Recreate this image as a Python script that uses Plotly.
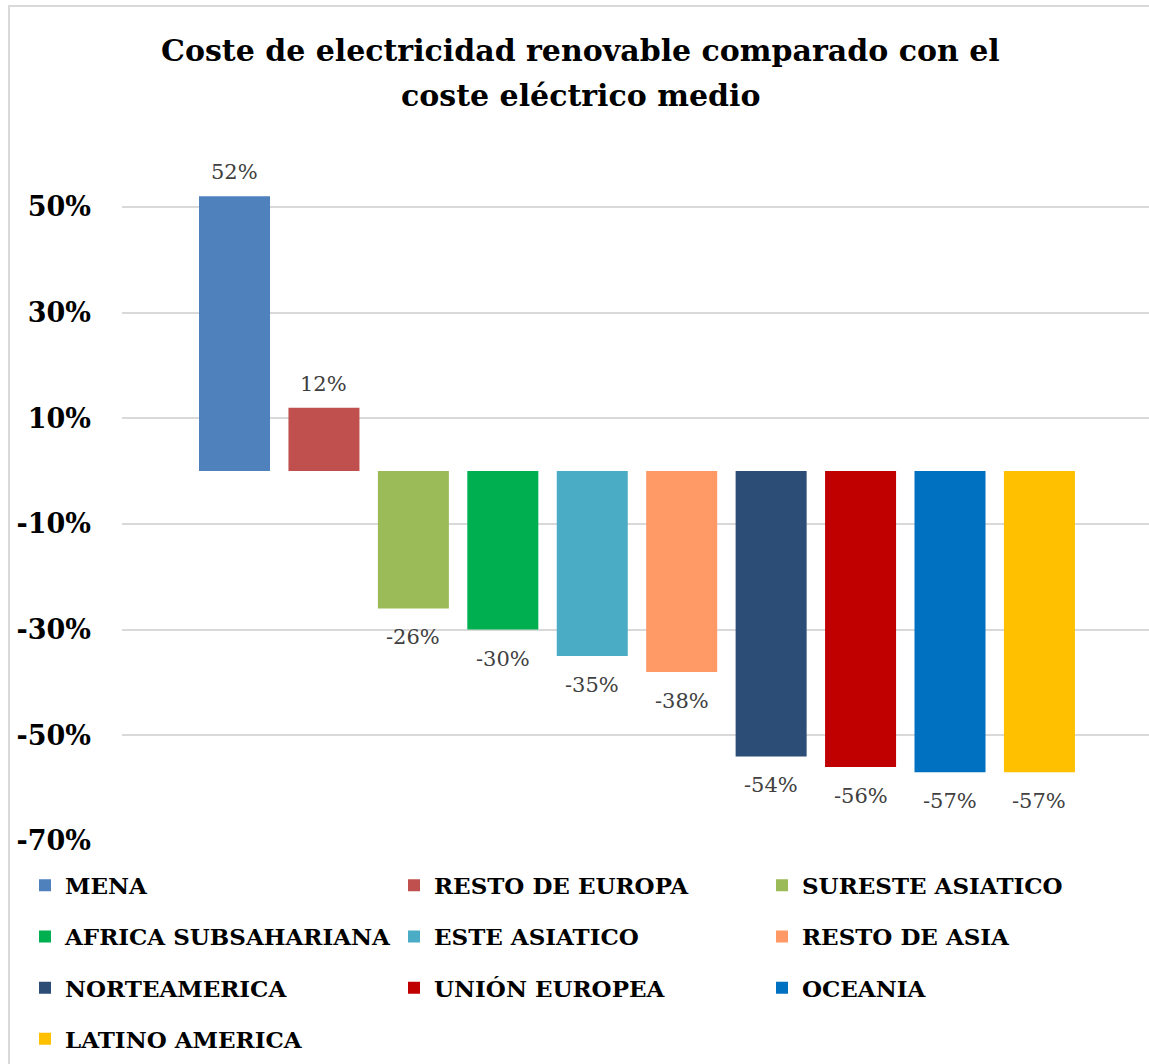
import plotly.graph_objects as go

regions = ["MENA", "RESTO DE EUROPA", "SURESTE ASIATICO", "AFRICA SUBSAHARIANA",
           "ESTE ASIATICO", "RESTO DE ASIA", "NORTEAMERICA", "UNIÓN EUROPEA",
           "OCEANIA", "LATINO AMERICA"]
values = [0.52, 0.12, -0.26, -0.30, -0.35, -0.38, -0.54, -0.56, -0.57, -0.57]
colors = ["#4F81BD", "#C0504D", "#9BBB59", "#00B050", "#4BACC6",
          "#FF9966", "#2C4D75", "#C00000", "#0070C0", "#FFC000"]
y_ticks = [-0.7, -0.5, -0.3, -0.1, 0.1, 0.3, 0.5]
y_tick_text = ["-70%", "-50%", "-30%", "-10%", "10%", "30%", "50%"]
title_lines = ["Coste de electricidad renovable comparado con el",
               "coste eléctrico medio"]

SERIF = "DejaVu Serif"
legend_of = ["legend", "legend2", "legend3"]

fig = go.Figure()
for i, (name, v, c) in enumerate(zip(regions, values, colors)):
    fig.add_trace(go.Bar(
        x=[i], y=[v], name=name, marker=dict(color=c, line=dict(width=0)),
        width=0.794, legend=legend_of[i % 3], legendgroup=name,
        hoverinfo="skip",
    ))
    fig.add_annotation(
        x=i, y=v, text=f"{round(v * 100):d}%", showarrow=False,
        yanchor="middle", yshift=24 if v >= 0 else -29,
        font=dict(family=SERIF, size=21, color="#404040"),
    )

W, H = 1149, 1064
ml, mr, mt, mb = 122, 0, 153.6, 223.3
pw, ph = W - ml - mr, H - mt - mb

def px_x(p):
    return (p - ml) / pw

def px_y(p):
    return (H - mb - p) / ph

# title, two lines placed as separate paper annotations to match line spacing
for k, (line, ypx) in enumerate(zip(title_lines, [50, 95])):
    fig.add_annotation(
        xref="paper", yref="paper", x=px_x(580), y=px_y(ypx),
        xanchor="center", yanchor="middle", showarrow=False, text=line,
        font=dict(family=SERIF, size=30, color="#000000", weight="bold"),
    )

leg_common = dict(orientation="v", xanchor="left", yanchor="top",
                  font=dict(family=SERIF, size=23, color="#000000", weight="bold"),
                  tracegroupgap=18.3, bgcolor="rgba(0,0,0,0)", borderwidth=0,
                  itemclick=False, itemdoubleclick=False)
legend_top = px_y(863.5)
fig.update_layout(
    width=W, height=H,
    margin=dict(l=ml, r=mr, t=mt, b=mb, autoexpand=False),
    paper_bgcolor="white", plot_bgcolor="white",
    barmode="overlay",
    xaxis=dict(range=[-1.258, 10.225], visible=False, fixedrange=True),
    yaxis=dict(range=[-0.70, 0.60], tickvals=y_ticks, ticktext=y_tick_text,
               showgrid=True, gridcolor="#D9D9D9", gridwidth=1.5,
               zeroline=False, showline=False, ticks="",
               ticklabelstandoff=30, fixedrange=True,
               tickfont=dict(family=SERIF, size=27, color="#000000", weight="bold")),
    legend=dict(x=px_x(25), y=legend_top, **leg_common),
    legend2=dict(x=px_x(394), y=legend_top, **leg_common),
    legend3=dict(x=px_x(762), y=legend_top, **leg_common),
    showlegend=True,
)
# chart border (left and top edges)
fig.add_shape(type="line", xref="paper", yref="paper",
              x0=px_x(9), x1=px_x(9), y0=px_y(5), y1=px_y(H + 5),
              line=dict(color="#D9D9D9", width=2))
fig.add_shape(type="line", xref="paper", yref="paper",
              x0=px_x(8), x1=px_x(W + 5), y0=px_y(5.5), y1=px_y(5.5),
              line=dict(color="#D9D9D9", width=2))

fig.write_html("out.html", config={"displayModeBar": False},
               post_script="document.body.style.margin='0';document.body.style.overflow='hidden';")
